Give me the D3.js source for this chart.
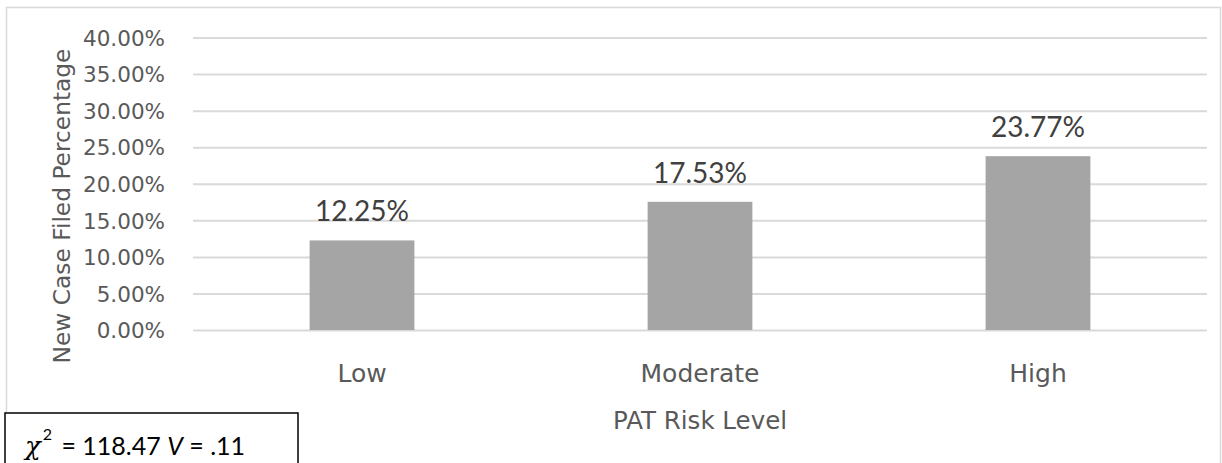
<!DOCTYPE html>
<html>
<head>
<meta charset="utf-8">
<script src="https://cdn.jsdelivr.net/npm/d3@7"></script>
<style>
  html, body { margin: 0; padding: 0; background: #fff; }
  svg { display: block; }
</style>
</head>
<body>
<svg id="chart" width="1222" height="463"></svg>
<script>
// Share of new cases filed, by PAT risk level
const categories = ["Low", "Moderate", "High"];
const rates = [0.1225, 0.1753, 0.2377];
const tickValues = [0, 0.05, 0.10, 0.15, 0.20, 0.25, 0.30, 0.35, 0.40];
const yTitle = "New Case Filed Percentage";
const xTitle = "PAT Risk Level";
const statParts = { chi: "118.47", v: ".11" };

const svg = d3.select("#chart");
const W = 1222, H = 463;
const plot = { left: 193, right: 1207, top: 37.5, bottom: 330 };

const x = d3.scaleBand().domain(categories).range([plot.left, plot.right]).padding(0);
const y = d3.scaleLinear().domain([0, 0.4]).range([plot.bottom, plot.top]);
const fmt = d3.format(".2%");
const barW = x.bandwidth() * 0.31;

// chart frame
svg.append("rect")
  .attr("x", 6.5).attr("y", 7.5)
  .attr("width", 1214).attr("height", H)
  .attr("fill", "#fff").attr("stroke", "#d9d9d9").attr("stroke-width", 1.5);

// gridlines
const yAxis = d3.axisLeft(y).tickValues(tickValues).tickFormat(fmt)
  .tickSize(-(plot.right - plot.left)).tickPadding(28);
const gy = svg.append("g").attr("transform", `translate(${plot.left},0)`).call(yAxis);
gy.select(".domain").remove();
gy.selectAll(".tick line").attr("stroke", "#d9d9d9").attr("stroke-width", 2);
gy.selectAll(".tick text")
  .attr("fill", "#595959")
  .attr("font-family", "DejaVu Sans")
  .attr("font-size", 21.5)
  .attr("dy", "0.36em");

// bars
svg.append("g").selectAll("rect")
  .data(categories)
  .join("rect")
  .attr("x", (d) => x(d) + x.bandwidth() / 2 - barW / 2)
  .attr("y", (d, i) => y(rates[i]))
  .attr("width", barW)
  .attr("height", (d, i) => y(0) - y(rates[i]))
  .attr("fill", "#a5a5a5");

// value labels
svg.append("g").selectAll("text")
  .data(categories)
  .join("text")
  .attr("x", (d) => x(d) + x.bandwidth() / 2)
  .attr("y", (d, i) => y(rates[i]) - 19)
  .attr("text-anchor", "middle")
  .attr("font-family", "Lato")
  .attr("font-size", 28)
  .attr("fill", "#404040")
  .text((d, i) => fmt(rates[i]));

// category labels
const xAxis = d3.axisBottom(x).tickSize(0).tickPadding(0);
const gx = svg.append("g").attr("transform", `translate(0,${plot.bottom})`).call(xAxis);
gx.select(".domain").remove();
gx.selectAll(".tick text")
  .attr("y", 51.7).attr("dy", 0)
  .attr("fill", "#595959")
  .attr("font-family", "DejaVu Sans")
  .attr("font-size", 25);

// axis titles
svg.append("text")
  .attr("transform", "translate(70,206) rotate(-90)")
  .attr("text-anchor", "middle")
  .attr("font-family", "DejaVu Sans")
  .attr("font-size", 23.3)
  .attr("fill", "#595959")
  .text(yTitle);

svg.append("text")
  .attr("x", 700).attr("y", 429)
  .attr("text-anchor", "middle")
  .attr("font-family", "DejaVu Sans")
  .attr("font-size", 24.5)
  .attr("fill", "#595959")
  .text(xTitle);

// statistics box
svg.append("rect")
  .attr("x", 5).attr("y", 413)
  .attr("width", 293).attr("height", 80)
  .attr("fill", "#fff").attr("stroke", "#000").attr("stroke-width", 1.5);

const stat = svg.append("text")
  .attr("x", 25).attr("y", 455)
  .attr("font-family", "Lato")
  .attr("font-size", 25)
  .attr("fill", "#000");
stat.append("tspan").attr("font-family", "DejaVu Serif").attr("font-style", "italic").attr("font-size", 26).text("χ");
stat.append("tspan").attr("font-size", 16).attr("dy", -15).attr("dx", 2).text("2");
stat.append("tspan").attr("dy", 15).attr("dx", 3).text(` = ${statParts.chi} `);
stat.append("tspan").attr("font-style", "italic").text("V");
stat.append("tspan").text(` = ${statParts.v}`);
</script>
</body>
</html>
